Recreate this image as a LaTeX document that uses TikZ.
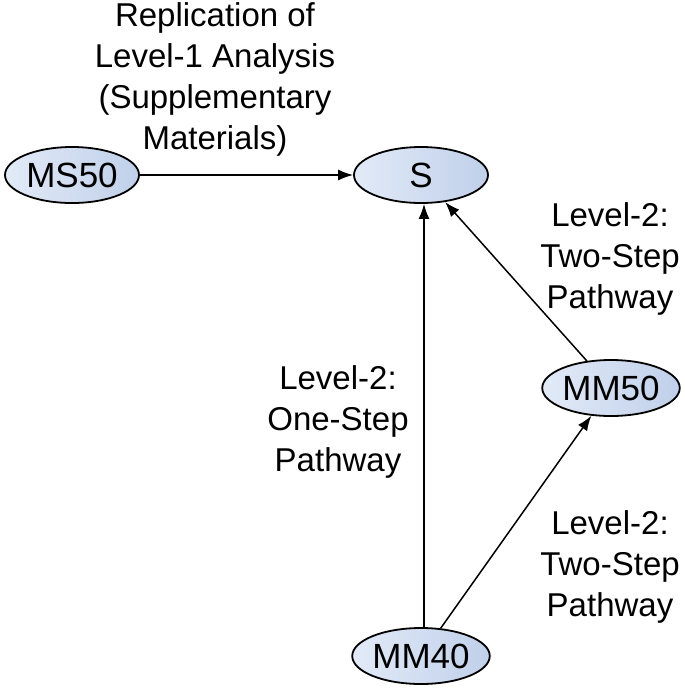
\documentclass[tikz,border=0pt]{standalone}
\usepackage{fontspec}
\setmainfont{Liberation Sans}
\usetikzlibrary{shapes.geometric,arrows.meta}

\definecolor{elllight}{RGB}{226,234,247}
\definecolor{elldark}{RGB}{192,208,234}

\tikzset{
  var/.style={ellipse, draw, line width=1.8pt, minimum width=134pt, minimum height=56pt,
    left color=elllight, right color=elldark, font=\fontsize{35}{40}\selectfont, inner sep=0pt},
  path/.style={-{Latex[length=15pt,width=11pt]}, line width=1.5pt},
  lbl/.style={align=center, font=\fontsize{33}{41}\selectfont}
}

\begin{document}
\begin{tikzpicture}[x=1pt,y=-1pt]
\useasboundingbox (0,0) rectangle (685,694);

% variables
\node[var] (ms50) at (72,175) {MS50};
\node[var] (s) at (421,175) {S};
\node[var] (mm50) at (611,388) {MM50};
\node[var] (mm40) at (421,656) {MM40};

% paths
\draw[path] (ms50) -- (s);
\draw[path] (mm40.north) ++(3,0) coordinate (mm40top) -- (mm40top |- s.south);
\draw[path] (mm40) -- (mm50);
\draw[path] (mm50) -- (s);

% labels
\node[lbl] (lrep) at (215,79) {Replication of\\Level-1 Analysis\\(Supplementary\\Materials)};
\node[lbl] (ltwoa) at (610,259) {Level-2:\\Two-Step\\Pathway};
\node[lbl] (lone) at (338,422) {Level-2:\\One-Step\\Pathway};
\node[lbl] (ltwob) at (610,567) {Level-2:\\Two-Step\\Pathway};

\end{tikzpicture}
\end{document}
